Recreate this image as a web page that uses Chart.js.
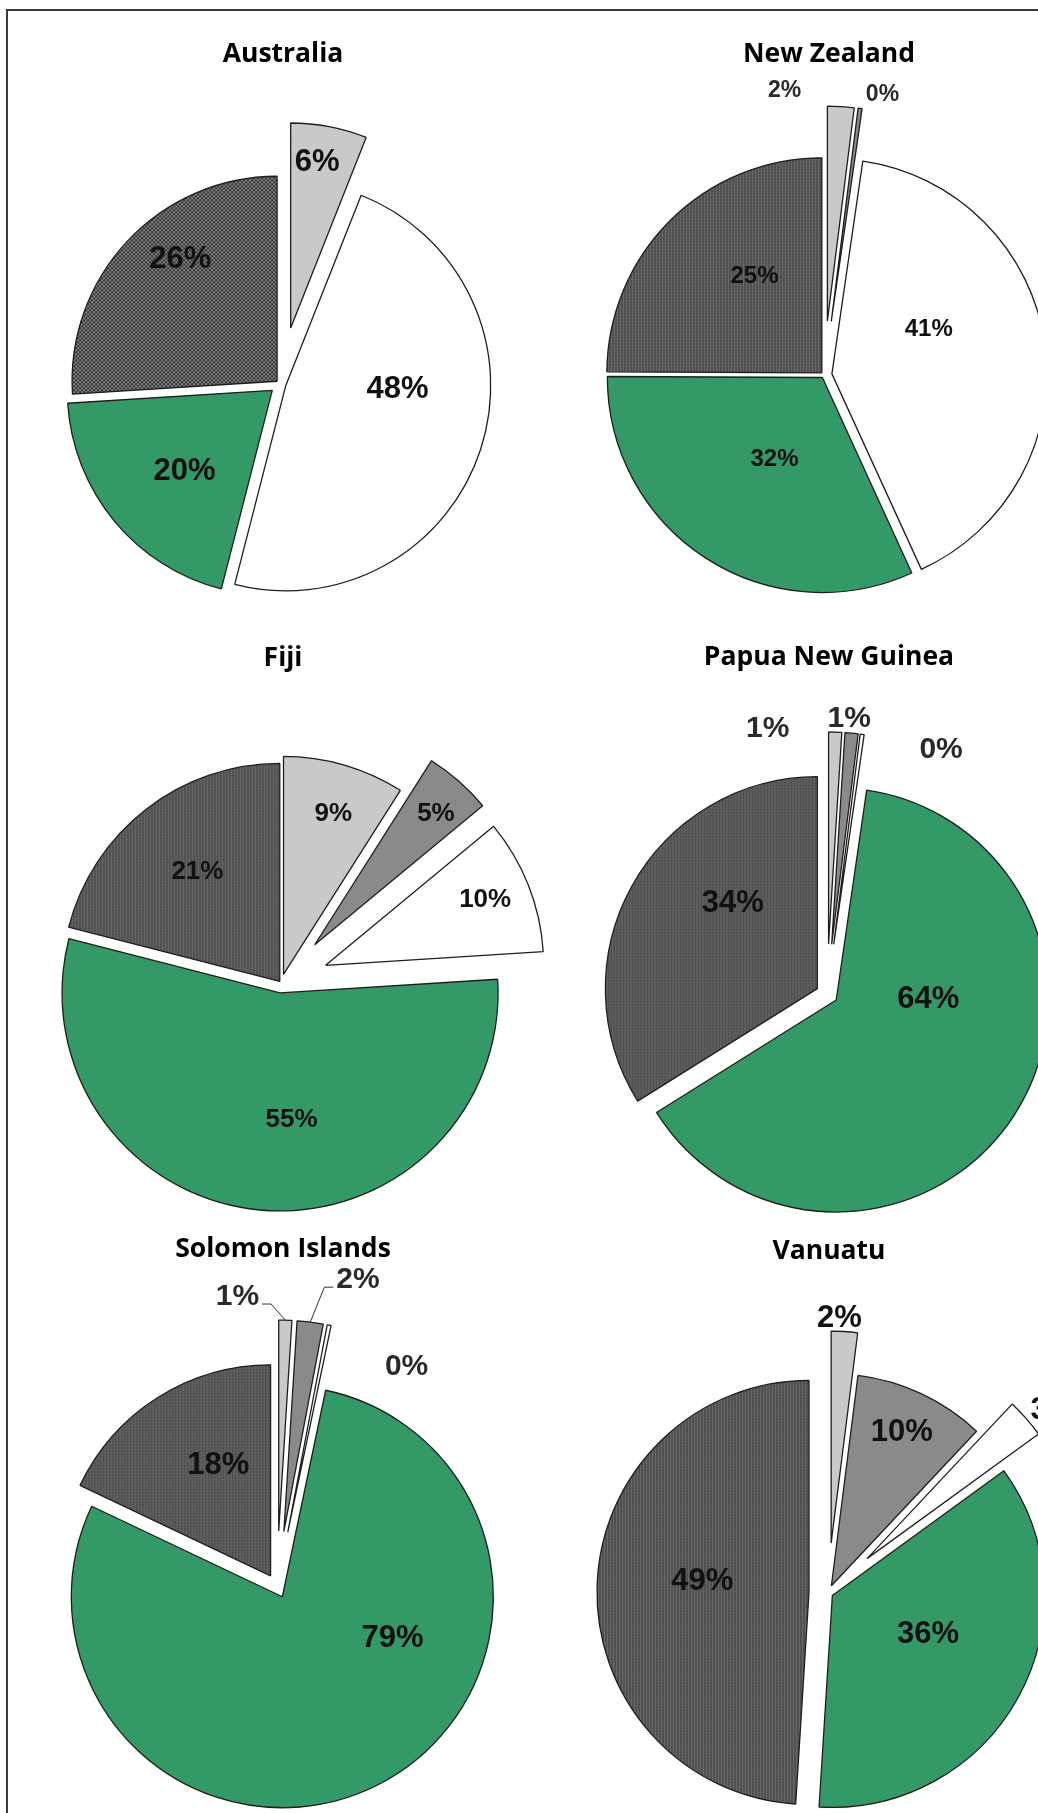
<!DOCTYPE html>
<html>
<head>
<meta charset="utf-8">
<title>Pacific shares</title>
<script src="https://cdn.jsdelivr.net/npm/chart.js@4.4.1/dist/chart.umd.min.js"></script>
<style>
  html, body { margin: 0; padding: 0; background: #fff; }
  body { width: 1038px; height: 1813px; position: relative; overflow: hidden; }
  .frame { position: absolute; left: 6px; top: 9px; width: 1100px; height: 1900px;
           border-left: 2px solid #3a3a3a; border-top: 2px solid #3a3a3a; }
  .pie { position: absolute; }
  .title { position: absolute; font-family: 'Open Sans', sans-serif; font-weight: 700;
           font-size: 26.5px; line-height: 26px; white-space: nowrap; color: #000;
           transform: translateX(-50%); }
</style>
</head>
<body>
<div class="frame"></div>
<script>
const countries = ['Australia', 'New Zealand', 'Fiji', 'Papua New Guinea', 'Solomon Islands', 'Vanuatu'];
const sliceKeys = ['lightGrey', 'midGrey', 'white', 'green', 'darkHatch'];

// shares in percent, clockwise from twelve o'clock
const australia      = [6, 0, 48, 20, 26];
const newZealand     = [2, 0.3, 41, 32, 25];
const fiji           = [9, 5, 10, 55, 21];
const papuaNewGuinea = [1, 1, 0.3, 64, 34];
const solomonIslands = [1, 2, 0.3, 79, 18];
const vanuatu        = [2, 10, 3, 36, 49];

const shares = [australia, newZealand, fiji, papuaNewGuinea, solomonIslands, vanuatu];

// placement of each pie; labelAt = [angle shift in deg, distance as share of radius, outside label]
const pieLayout = [
  { cx: 280, cy: 384, r: 205, explode: [57, 0, 6, 10, 4], font: 31, texture: 'dots',
    titleX: 283, titleY: 62.5,
    labelAt: [[-1.8, 0.828], null, [-17.3, 0.546], [-2.3, 0.575], [8.9, 0.768]] },
  { cx: 824, cy: 375, r: 215, explode: [54, 54, 8, 3, 3], font: 24, texture: 'stripes',
    titleX: 829, titleY: 62.5,
    labelAt: [[-14, 1.099, 1], [4.9, 1.091, 1], [-17.6, 0.5], [-1.9, 0.433], [10.4, 0.554]] },
  { cx: 281, cy: 983, r: 218, explode: [9, 51, 48, 10, 2], font: 26, texture: 'stripes',
    titleX: 283, titleY: 665.8,
    labelAt: [[0.8, 0.78], [0.9, 0.826], [-1.4, 0.795], [-10.7, 0.575], [1.3, 0.635]] },
  { cx: 827, cy: 994, r: 212, explode: [50, 50, 50, 11, 11], font: 31, texture: 'stripes',
    titleX: 829, titleY: 664.6,
    labelAt: [[-17.4, 1.066, 1], [-1, 1.078, 1], [20.8, 1.061, 1], [-34.8, 0.435], [17, 0.575]] },
  { cx: 277, cy: 1586, r: 211, explode: [55, 55, 55, 12, 12], font: 31, texture: 'stripes',
    titleX: 283, titleY: 1257.4, leader: [1, 1, 0, 0, 0],
    labelAt: [[-11.7, 1.139, 1], [9.1, 1.254, 1], [24, 0.974, 1], [-44.1, 0.554], [7.5, 0.591]] },
  { cx: 827.6, cy: 1593, r: 212, explode: [50, 8, 52, 5, 19], font: 31, texture: 'stripes',
    titleX: 829, titleY: 1259.3,
    labelAt: [[-1.5, 1.073], [-0.9, 0.807], [2.4, 1.128], [-7.9, 0.483], [5.5, 0.507]] }
];

const BOX = 680;

function makeTexture(kind) {
  const tile = document.createElement('canvas');
  const t = tile.getContext('2d');
  if (kind === 'dots') {
    tile.width = tile.height = 4;
    t.fillStyle = '#888';
    t.fillRect(0, 0, 4, 4);
    t.fillStyle = '#2e2e2e';
    t.fillRect(0, 0, 2, 2);
    t.fillRect(2, 2, 2, 2);
  } else {
    tile.width = tile.height = 3;
    t.fillStyle = '#4d4d4d';
    t.fillRect(0, 0, 3, 3);
    t.fillStyle = '#6a6a6a';
    t.fillRect(0, 0, 1, 3);
    t.fillStyle = '#575757';
    t.fillRect(1, 0, 2, 1);
  }
  return t.createPattern(tile, 'repeat');
}

// pulls slices away from the centre along their middle angle
function explodePlugin(spot) {
  return {
    id: 'explode',
    beforeDatasetDraw(chart, args) {
      const ctx = chart.ctx;
      args.meta.data.forEach((arc, i) => {
        const mid = (arc.startAngle + arc.endAngle) / 2;
        const d = spot.explode[i];
        ctx.save();
        ctx.translate(Math.cos(mid) * d, Math.sin(mid) * d);
        arc.draw(ctx);
        ctx.restore();
      });
      return false;
    }
  };
}

function labelPlugin(values, spot) {
  return {
    id: 'sliceLabels',
    afterDatasetsDraw(chart) {
      const ctx = chart.ctx;
      const arcs = chart.getDatasetMeta(0).data;
      arcs.forEach((arc, i) => {
        const at = spot.labelAt[i];
        if (!at) return;
        const mid = (arc.startAngle + arc.endAngle) / 2;
        const ax = arc.x + Math.cos(mid) * spot.explode[i];
        const ay = arc.y + Math.sin(mid) * spot.explode[i];
        const a = mid + at[0] * Math.PI / 180;
        const dist = at[1] * arc.outerRadius;
        const x = ax + Math.cos(a) * dist;
        const y = ay + Math.sin(a) * dist;
        const text = Math.round(values[i]) + '%';
        const size = at[2] ? spot.font - 1 : spot.font;
        const capH = 0.716 * size;

        ctx.save();
        ctx.font = 'bold ' + size + 'px "Liberation Sans", Arial, sans-serif';
        ctx.fillStyle = at[2] ? '#2a2a2a' : '#111';
        ctx.textAlign = 'center';
        ctx.textBaseline = 'alphabetic';
        ctx.fillText(text, x, y + capH / 2);

        if (spot.leader && spot.leader[i]) {
          const w = ctx.measureText(text).width;
          const ex = ax + Math.cos(mid) * arc.outerRadius;
          const ey = ay + Math.sin(mid) * arc.outerRadius;
          const side = ex > x ? 1 : -1;
          const sx = x + side * (w / 2 + 3);
          const ly = y + capH / 2 - 1;
          ctx.strokeStyle = '#333';
          ctx.lineWidth = 1;
          ctx.beginPath();
          ctx.moveTo(sx, ly);
          ctx.lineTo(sx + side * 9, ly);
          ctx.lineTo(ex, ey);
          ctx.stroke();
        }
        ctx.restore();
      });
    }
  };
}

shares.forEach((values, k) => {
  const spot = pieLayout[k];

  const canvas = document.createElement('canvas');
  canvas.width = BOX;
  canvas.height = BOX;
  canvas.className = 'pie';
  canvas.style.left = (spot.cx - BOX / 2) + 'px';
  canvas.style.top = (spot.cy - BOX / 2) + 'px';
  document.body.appendChild(canvas);

  const fills = ['#c9c9c9', '#8a8a8a', '#ffffff', '#339966', makeTexture(spot.texture)];

  new Chart(canvas, {
    type: 'pie',
    data: {
      labels: sliceKeys,
      datasets: [{
        data: values,
        backgroundColor: fills,
        borderColor: '#1e1e1e',
        borderWidth: 1.3
      }]
    },
    options: {
      responsive: false,
      animation: false,
      events: [],
      radius: spot.r,
      rotation: 0,
      circumference: 360,
      layout: { padding: 0 },
      plugins: {
        legend: { display: false },
        tooltip: { enabled: false }
      }
    },
    plugins: [explodePlugin(spot), labelPlugin(values, spot)]
  });

  const title = document.createElement('div');
  title.className = 'title';
  title.textContent = countries[k];
  title.style.left = spot.titleX + 'px';
  title.style.top = (spot.titleY - 23.1) + 'px';
  document.body.appendChild(title);
});
</script>
</body>
</html>
